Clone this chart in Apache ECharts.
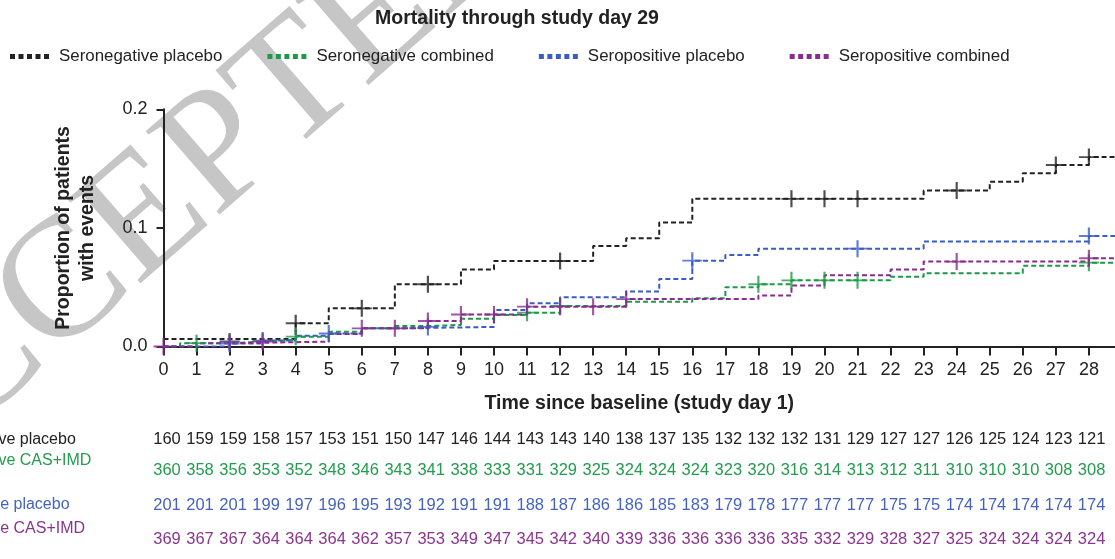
<!DOCTYPE html>
<html>
<head>
<meta charset="utf-8">
<script src="https://cdn.jsdelivr.net/npm/echarts@6/dist/echarts.min.js"></script>
<style>
html,body{margin:0;padding:0;background:#fff;}
#c{width:1115px;height:559px;}
</style>
</head>
<body>
<div id="c"></div>
<script>
// ---------- DATA ----------
const title = 'Mortality through study day 29';
const seriesNames = ['Seronegative placebo', 'Seronegative combined', 'Seropositive placebo', 'Seropositive combined'];
const riskLabels = ['Seronegative placebo', 'Seronegative CAS+IMD', 'Seropositive placebo', 'Seropositive CAS+IMD'];
const dayTicks = [0,1,2,3,4,5,6,7,8,9,10,11,12,13,14,15,16,17,18,19,20,21,22,23,24,25,26,27,28];
const yTicks = [0, 0.1, 0.2];

// step curves: [day, cumulative proportion after that day]
const negPlacebo = [[0,0.0063],[4,0.0196],[5,0.0322],[7,0.0525],[9,0.065],[10,0.0721],[13,0.0848],[14,0.0913],[15,0.1045],[16,0.1245],[23,0.1315],[25,0.139],[26,0.146],[27,0.153],[28,0.1597]];
const negCombined = [[0,0],[0.5,0.0028],[2,0.0042],[3,0.0056],[4,0.0083],[5,0.0125],[6,0.0153],[7,0.0172],[8,0.0182],[9,0.0235],[10,0.0266],[11,0.0285],[12,0.0342],[14,0.0378],[16,0.0407],[17,0.050],[18,0.0525],[19,0.0558],[22,0.0589],[23,0.0618],[26,0.068],[28,0.0707]];
const posPlacebo = [[0,0],[2,0.0025],[3,0.005],[4,0.0091],[5,0.011],[6,0.0153],[7,0.0165],[10,0.0308],[11,0.0365],[12,0.0415],[14,0.0463],[15,0.057],[16,0.0724],[17,0.0772],[18,0.0825],[23,0.0885],[28,0.0932]];
const posCombined = [[0,0],[1,0.0027],[2,0.0041],[5,0.0105],[6,0.0153],[8,0.0215],[9,0.027],[11,0.0336],[14,0.040],[18,0.043],[19,0.0515],[20,0.060],[22,0.065],[23,0.0716],[28,0.0744]];

// censor mark days
const negPlaceboCensor = [4,6,8,12,19,20,21,24,27,28];
const negCombinedCensor = [1,2,4,11,12,18,19,20,21,28];
const posPlaceboCensor = [2,3,5,8,16,21,28];
const posCombinedCensor = [0,2,3,6,7,8,9,10,11,12,13,14,24,28];

// numbers at risk
const riskNegPlacebo = [160,159,159,158,157,153,151,150,147,146,144,143,143,140,138,137,135,132,132,132,131,129,127,127,126,125,124,123,121];
const riskNegCombined = [360,358,356,353,352,348,346,343,341,338,333,331,329,325,324,324,324,323,320,316,314,313,312,311,310,310,310,308,308];
const riskPosPlacebo = [201,201,201,199,197,196,195,193,192,191,191,188,187,186,186,185,183,179,178,177,177,177,175,175,174,174,174,174,174];
const riskPosCombined = [369,367,367,364,364,364,362,357,353,349,347,345,342,340,339,336,336,336,336,335,332,329,328,327,325,324,324,324,324];

// ---------- LAYOUT / STYLE ----------
const COLORS = ['#222222', '#1d9a48', '#3a5cc5', '#8a2b8e'];
const TEXT_COLORS = ['#222222', '#229c4e', '#4563bd', '#8c3590'];
const XMAX = 28.79;
const FONT = '"Liberation Sans", Arial, Helvetica, sans-serif';
const ROW_Y = [439.3, 470.7, 505, 539.3];
const LABEL_Y = [439.3, 461, 505, 528.3];

const curves = [negPlacebo, negCombined, posPlacebo, posCombined];
const censors = [negPlaceboCensor, negCombinedCensor, posPlaceboCensor, posCombinedCensor];
const risks = [riskNegPlacebo, riskNegCombined, riskPosPlacebo, riskPosCombined];

function valueAt(steps, d) {
  let v = 0;
  for (const [t, y] of steps) if (t <= d + 1e-9) v = y;
  return v;
}

const legendIcon = 'path://M0,0h5v5h-5zM8.5,0h5v5h-5zM17,0h5v5h-5zM25.5,0h5v5h-5zM34,0h5v5h-5z';
const plusPath = 'path://M0,5L10,5M5,0L5,10';

const series = [];
curves.forEach((c, i) => {
  const data = c.slice();
  data.push([XMAX, c[c.length - 1][1]]);
  series.push({
    name: seriesNames[i], type: 'line', step: 'end', data: data,
    xAxisIndex: 0, yAxisIndex: 0, showSymbol: false, symbol: 'none',
    lineStyle: { color: COLORS[i], width: 2, type: [5, 3] },
    itemStyle: { color: COLORS[i] },
    z: 3, silent: true, animation: false
  });
});
censors.forEach((cd, i) => {
  series.push({
    name: seriesNames[i] + ' censored', type: 'scatter',
    data: cd.map(d => [d, valueAt(curves[i], d)]),
    xAxisIndex: 0, yAxisIndex: 0,
    symbol: plusPath, symbolSize: [20, 17],
    itemStyle: { color: 'rgba(0,0,0,0)', borderColor: COLORS[i], borderWidth: 2 },
    z: 4, silent: true, animation: false
  });
});
risks.forEach((r, i) => {
  series.push({
    type: 'custom', xAxisIndex: 1, yAxisIndex: 1, silent: true, animation: false,
    data: r.map((n, k) => [dayTicks[k], ROW_Y[i], n]),
    renderItem: function (params, api) {
      const p = api.coord([api.value(0), api.value(1)]);
      return {
        type: 'text', x: p[0], y: p[1],
        style: { text: String(api.value(2)), fill: TEXT_COLORS[i], font: '16.5px ' + FONT, align: 'center', verticalAlign: 'middle' }
      };
    }
  });
});

const graphics = [
  {
    type: 'text', z: -10, x: 175, y: 194, rotation: 41 * Math.PI / 180,
    style: { text: 'ACCEPTED', fill: '#c6c6c6', font: '170px "Liberation Serif", "Times New Roman", serif', align: 'center', verticalAlign: 'middle' }
  }
];
riskLabels.forEach((t, i) => {
  graphics.push({
    type: 'text', x: -79, y: LABEL_Y[i],
    style: { text: t, fill: TEXT_COLORS[i], font: '16px ' + FONT, align: 'left', verticalAlign: 'middle' }
  });
});

const chart = echarts.init(document.getElementById('c'), null, { renderer: 'canvas' });
chart.setOption({
  animation: false,
  backgroundColor: '#ffffff',
  title: {
    text: title, left: 512, top: 4, textAlign: 'center',
    textStyle: { fontFamily: FONT, fontWeight: 'bold', fontSize: 19.5, color: '#222' }
  },
  legend: {
    data: seriesNames.map((n, i) => ({ name: n, icon: legendIcon, itemStyle: { color: COLORS[i], borderWidth: 0 } })),
    left: 5, top: 43, itemWidth: 39, itemHeight: 5, itemGap: 45,
    textStyle: { fontFamily: FONT, fontSize: 16.9, color: '#222', padding: [0, 0, 0, 5] },
    selectedMode: false
  },
  grid: [
    { left: 163.5, top: 109.3, right: 0, bottom: 212.5, containLabel: false },
    { left: 167, right: 23.4, top: 400, height: 159, containLabel: false }
  ],
  xAxis: [
    {
      type: 'value', gridIndex: 0, min: 0, max: XMAX,
      name: 'Time since baseline (study day 1)', nameLocation: 'middle', nameGap: 47,
      nameTextStyle: { fontFamily: FONT, fontWeight: 'bold', fontSize: 19.5, color: '#222' },
      axisLine: { show: true, onZero: false, lineStyle: { color: '#222', width: 2 } },
      axisTick: { show: true, length: 9, customValues: dayTicks, lineStyle: { color: '#222', width: 2 } },
      axisLabel: { customValues: dayTicks, margin: 15, fontFamily: FONT, fontSize: 18, color: '#222' },
      splitLine: { show: false }
    },
    { type: 'value', gridIndex: 1, min: 0, max: 28, show: false }
  ],
  yAxis: [
    {
      type: 'value', gridIndex: 0, min: 0, max: 0.2, interval: 0.1,
      name: 'Proportion of patients\nwith events', nameLocation: 'middle', nameGap: 64,
      nameTextStyle: { fontFamily: FONT, fontWeight: 'bold', fontSize: 19.5, color: '#222', lineHeight: 24 },
      axisLine: { show: true, lineStyle: { color: '#222', width: 2 } },
      axisTick: { show: true, length: 7, lineStyle: { color: '#222', width: 2 } },
      axisLabel: { margin: 16, fontFamily: FONT, fontSize: 18, color: '#222', formatter: v => v.toFixed(1) },
      splitLine: { show: false }
    },
    { type: 'value', gridIndex: 1, min: 400, max: 559, inverse: true, show: false }
  ],
  graphic: graphics,
  series: series
});
</script>
</body>
</html>
